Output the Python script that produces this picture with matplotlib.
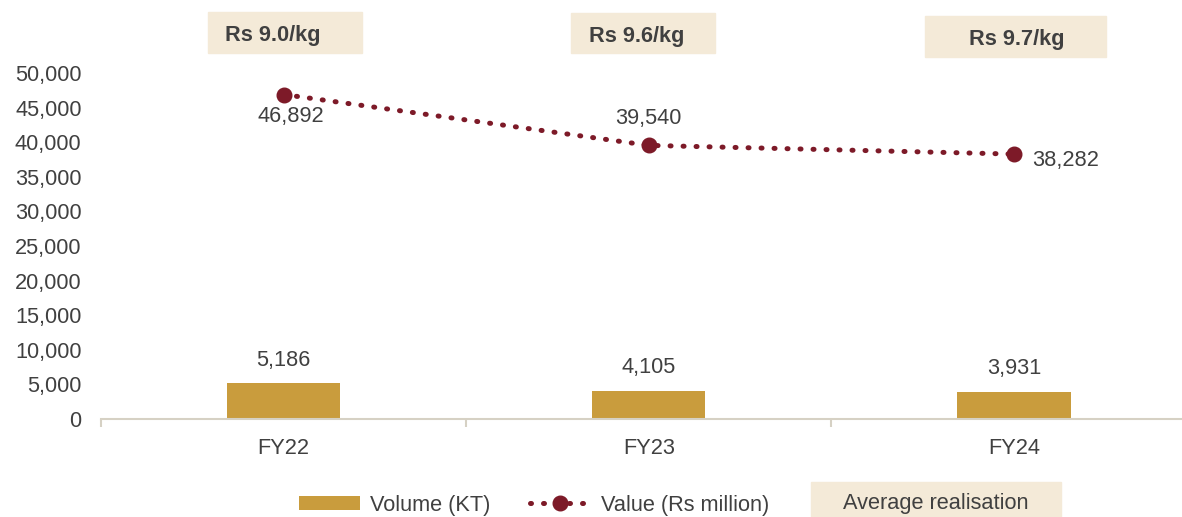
import matplotlib
matplotlib.use('Agg')
import matplotlib.pyplot as plt
from matplotlib.patches import Patch
from matplotlib.lines import Line2D
from matplotlib.ticker import FuncFormatter, FixedLocator
import numpy as np

plt.rcParams['font.family'] = ['Liberation Sans', 'DejaVu Sans']

# data
years = ['FY22', 'FY23', 'FY24']
volume_kt = [5186, 4105, 3931]
value_rs_mn = [46892, 39540, 38282]
realisation = ['Rs 9.0/kg', 'Rs 9.6/kg', 'Rs 9.7/kg']

BAR = '#C99C3D'
LINE = '#7D1A28'
BOX = '#F4EAD8'
TXT = '#404040'
AXIS = '#D6D1C4'
DOTS = (0, (0.2, 2.4))
FS = 15.7

fig = plt.figure(figsize=(11.82, 5.17), dpi=100)
ax = fig.add_axes([101 / 1182, 98 / 517, 1081 / 1182, 346 / 517])

x = np.arange(len(years))
ax.bar(x, volume_kt, width=0.31, color=BAR, zorder=2)
ax.plot(x, value_rs_mn, color=LINE, linestyle=DOTS, dash_capstyle='round',
        linewidth=3.6, marker='o', markersize=10.5, zorder=3, clip_on=False)

ax.set_xlim(-0.5, 2.46)
ax.set_ylim(0, 50000)
ax.set_yticks(np.arange(0, 50001, 5000))
ax.yaxis.set_major_formatter(FuncFormatter(lambda v, p: f'{int(v):,}'))
ax.set_xticks(x)
ax.set_xticklabels(years)
ax.xaxis.set_minor_locator(FixedLocator([-0.5, 0.5, 1.5]))
ax.tick_params(axis='y', length=0, labelsize=FS, labelcolor=TXT, pad=14)
ax.tick_params(axis='x', which='major', length=0, labelsize=FS,
               labelcolor=TXT, pad=14)
ax.tick_params(axis='x', which='minor', length=6, width=1.5, color=AXIS)
for s in ['top', 'right', 'left']:
    ax.spines[s].set_visible(False)
ax.spines['bottom'].set_color(AXIS)
ax.spines['bottom'].set_linewidth(1.5)

# bar labels
for xi, v in zip(x, volume_kt):
    ax.annotate(f'{v:,}', (xi, v), xytext=(0, 9), textcoords='offset points',
                ha='center', va='bottom', fontsize=FS, color=TXT)

# line labels
offsets = [((5, -8.5), 'center', 'top'), ((0, 12), 'center', 'bottom'),
           ((13, -4.5), 'left', 'center')]
for xi, v, (off, ha, va) in zip(x, value_rs_mn, offsets):
    ax.annotate(f'{v:,}', (xi, v), xytext=off, textcoords='offset points',
                ha=ha, va=va, fontsize=FS, color=TXT, annotation_clip=False)

# average realisation boxes (left, top, width, height in px) and text centre
boxes = [(208, 12, 154, 41), (571, 13, 144, 40), (925, 16, 181, 41)]
text_xy = [(273, 36), (637, 36.5), (1017, 39)]
for (bl, bt, bw, bh), (tx, ty), label in zip(boxes, text_xy, realisation):
    fig.patches.append(plt.Rectangle((bl / 1182, 1 - (bt + bh) / 517),
                                     bw / 1182, bh / 517,
                                     transform=fig.transFigure, color=BOX,
                                     zorder=0))
    fig.text(tx / 1182, 1 - ty / 517, label, ha='center', va='center',
             fontsize=FS, fontweight='bold', color=TXT)

# legend
handles = [Patch(facecolor=BAR, edgecolor='none', label='Volume (KT)'),
           Line2D([0], [0], color=LINE, linestyle=DOTS,
                  dash_capstyle='round', linewidth=3.6, marker='o',
                  markersize=10.5, label='Value (Rs million)')]
leg = fig.legend(handles=handles, loc='center', ncol=2, frameon=False,
                 bbox_to_anchor=(534 / 1182, 1 - 505 / 517), fontsize=FS,
                 handlelength=2.8, handleheight=0.6, columnspacing=1.8,
                 handletextpad=0.45, labelcolor=TXT)
fig.patches.append(plt.Rectangle((811 / 1182, 0), 250 / 1182, 35 / 517,
                                 transform=fig.transFigure, color=BOX,
                                 zorder=0))
fig.text(936 / 1182, 1 - 503 / 517, 'Average realisation', ha='center',
         va='center', fontsize=FS, color=TXT)

fig.savefig('out.png', dpi=100)
